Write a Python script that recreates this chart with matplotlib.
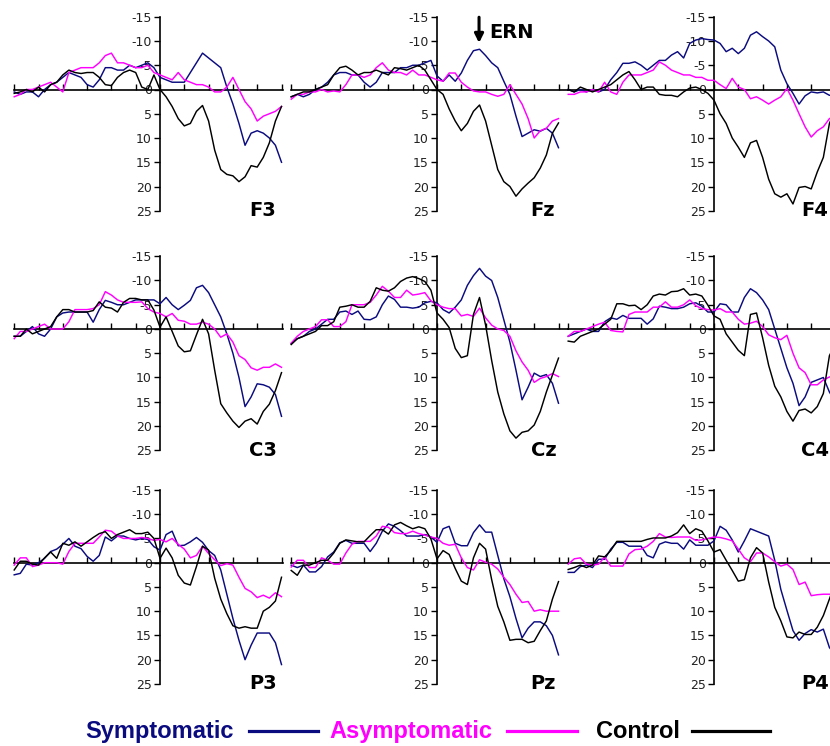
import matplotlib
matplotlib.use("Agg")
import matplotlib.pyplot as plt
from matplotlib.lines import Line2D

# ---------------- data (µV, negative plotted upward) ----------------
times = [-600, -575, -550, -525, -500, -475, -450, -425, -400, -375, -350, -325,
         -300, -275, -250, -225, -200, -175, -150, -125, -100, -75, -50, -25, 0,
         25, 50, 75, 100, 125, 150, 175, 200, 225, 250, 275, 300, 325, 350, 375,
         400, 425, 450, 475, 500]

F3_sym = [0.5, 1, 0.5, 0.5, 1.5, 0, -1, -1.5, -2.5, -3.5, -3, -2.5, -1, -0.5, -2, -4.5, -4.5, -4, -4, -5, -4.5, -5, -5.5, -4.5, -2.5,
          -2, -1.5, -1.5, -1.5, -3.5, -5.5, -7.5, -6.5, -5.5, -4.5, -0.5, 3, 7, 11.5, 9, 8.5, 9, 10, 11.5, 15]
F3_asym = [1.5, 1, 0, 0, -0.5, -1, -1.5, -0.5, 0.5, -3.5, -4, -4.5, -4.5, -4.5, -5.5, -7, -7.5, -5.5, -5.5, -5, -4.5, -4.5, -5, -3.5, -3,
           -2.5, -2, -3.5, -2, -1.5, -1, -1, -0.5, 0.5, 0.5, -0.5, -2.5, 0, 2.5, 4, 6.5, 5.5, 5, 4.5, 3.5]
F3_ctrl = [0.8, 0.5, 0, 0.5, -0.5, 0.5, -1, -1.5, -3, -4, -3.5, -3.3, -3.5, -3.5, -2.5, -1, -0.8, -2.5, -3.5, -4, -3.5, -0.5, 0, -3, 0,
           1.5, 3.5, 6, 7.5, 7, 4.5, 3.3, 6.5, 12.5, 16.5, 17.5, 17.8, 19, 18, 15.7, 16, 14, 11, 6.5, 3.5]

Fz_sym = [1.5, 1, 1.5, 1, 0, -0.5, -1.5, -3, -3.5, -3.5, -3, -3, -1.5, -0.5, -1.5, -3.5, -3.5, -3.5, -4.5, -4.5, -5, -5, -5.5, -6, -2.8,
          -1.7, -3, -1.7, -3.4, -6, -8, -8.3, -7, -5.5, -4.5, -1.7, 1, 5.5, 9.7, 9, 8.3, 8.6, 8, 9, 12]
Fz_asym = [2, 1, 1, 0.5, 0.5, 0, 0.5, 0.3, 0.5, -1, -3, -3, -2.5, -3, -4.5, -5.5, -4, -3.5, -3.5, -3, -4, -3, -3, -2.5, -2,
           -1.7, -3.4, -3.4, -1.5, -0.5, 0.3, 0.5, 0.5, 1, 1.4, 1, -1, 1, 3, 6, 10, 8.5, 8, 6.5, 6]
Fz_ctrl = [1.5, 1, 0.5, 0.5, 0, -0.5, -1, -3, -4.5, -4.8, -4, -3, -3.5, -3.5, -4, -3.5, -3, -4.5, -4.3, -4, -4.5, -5, -4, -2, 0,
           1, 4, 6.5, 8.5, 7, 4.5, 3.2, 6.5, 11.5, 16.5, 19, 20, 22, 20.5, 19.3, 18.2, 16.2, 13.5, 9, 6.9]

F4_sym = [0, 0.5, 0, 0.5, 0, 0.5, 0, -2, -3.5, -5.4, -5.4, -5.7, -5, -4, -5, -6, -6, -7.1, -7.8, -6.5, -9.5, -10.2, -10.5, -10.3, -10.2,
          -9.5, -7.8, -8.5, -7.4, -8.5, -11.2, -11.9, -10.9, -10, -8.8, -4, -1.2, 0.8, 3, 1.3, 0.5, 0.7, 0.5, 1.2, 1]
F4_asym = [1, 1, 0.5, 0.5, 0, 0.5, -1.5, 0.5, 1, -1.5, -3, -3, -3, -3.5, -4, -5.7, -5, -4, -3.5, -3, -3, -2.5, -2.5, -1.9, -1.9,
           -1, -0.2, -2.3, -0.5, 0, 1.9, 1.5, 2.2, 3, 2.2, 1.5, -0.2, 2.2, 5, 7.7, 9.8, 8.5, 7.7, 6, 5.5]
F4_ctrl = [0, 0.5, -0.5, 0, 0.5, 0, -0.5, -1, -2, -3, -3.7, -2, 0, -0.5, -0.5, 1, 1.2, 1.2, 1.5, 0.5, -0.3, -0.5, 0, 0.8, 2.2,
           5, 7, 10, 11.9, 14, 11, 10.5, 14, 18.5, 21.5, 22.2, 21.5, 23.6, 20.2, 20, 20.5, 17, 14, 7, 4]

C3_sym = [1.5, 1.5, 0.5, -0.5, 1, 1.5, 0, -2.5, -3.3, -3.5, -3.5, -3.5, -3.5, -1.4, -4, -5.9, -5.5, -5, -5, -5.5, -6, -6, -6, -6, -5.2,
          -6.5, -5, -4, -4.9, -5.9, -8.5, -9, -7.5, -5, -2.5, 1, 5, 10, 16, 14, 11.3, 11.5, 12, 13.5, 18]
C3_asym = [2, 0.5, 0.5, 0, -0.5, -1, 0, 0, 0, -1.5, -4, -4, -4, -4.2, -5, -7.7, -7, -6, -5.5, -5.5, -5.5, -5.6, -4.2, -3.5, -3.2,
           -2.5, -3.2, -1.8, -1.6, -1, -1, -1.4, -1, 0, 1.7, 1, 2.7, 5.5, 6.3, 8, 8.5, 7.9, 7.9, 7.2, 7.9]
C3_ctrl = [1.5, 1.5, 0, 1, 0.5, 0, -0.5, -2.5, -4, -4, -3.5, -3.5, -3.5, -3.8, -5.6, -4.5, -4.3, -3.5, -5.5, -6.3, -6.3, -6, -6, -3.9, -0.4,
           -2.5, 0.5, 3.5, 4.7, 4.5, 1.2, -2, 1, 8.5, 15.4, 17.3, 19, 20.3, 19, 18.5, 19.6, 17, 15.5, 12.7, 9]

Cz_sym = [3, 2, 1.5, 0.5, 0, -1, -2, -2, -3.5, -3.7, -3, -3.7, -2, -1.9, -2.5, -5, -6.8, -6.1, -4.5, -4.5, -4.3, -4.5, -5.4, -5.7, -5.4,
          -4, -3.3, -4.5, -6, -9, -11, -12.5, -10.9, -10, -6.5, -1.9, 2.7, 8.5, 14.6, 12, 9.1, 9.8, 9.4, 11.2, 15.3]
Cz_asym = [2.9, 1.5, 0.5, 0, -0.5, -1.9, -1.9, -0.5, -0.5, -1.5, -5, -5, -5, -5.5, -7, -8.8, -7.8, -6.5, -6.5, -8, -7, -7.2, -7.5, -5.8, -5,
           -4.5, -4.2, -4.2, -2.7, -3, -2.6, -4.3, -2.3, -0.8, 0, 0.3, 1.5, 4.5, 6.8, 8.5, 11, 10.2, 9.8, 9.2, 9.8]
Cz_ctrl = [3.2, 2, 1.5, 1, 0.5, -0.7, -0.7, -1.5, -4.5, -4.7, -5, -4.5, -4.5, -5.7, -8.5, -8, -7.8, -8.5, -9.8, -10.5, -10.8, -10.4, -9.8, -8, -3.3,
           -2, -0.3, 4, 5.9, 5.5, -3, -6.5, -0.8, 6.5, 13, 17.5, 21, 22.5, 21.3, 21, 19.8, 17, 13, 9.5, 6]

C4_sym = [1.5, 1, 0.5, 0, 0.5, 0.5, -1.5, -2.3, -2, -2.8, -2.2, -2.2, -2.2, -1, -2.1, -4.7, -4.5, -4.2, -4.2, -4.5, -5.2, -5.4, -4.7, -3.5, -3.5,
          -5.2, -5, -3.5, -3.5, -6.5, -8.3, -7.5, -6, -4, 0, 4, 8, 11.2, 15.8, 14, 11, 10.5, 10, 13, 15]
C4_asym = [1.5, 0.5, 0.5, 0, -0.5, -1, -1.4, 0.3, 0.5, 0.6, -3, -3.5, -3.5, -3.5, -4.5, -4.5, -5.6, -4.5, -4.5, -5, -6, -4.8, -4.2, -4, -3.9,
           -4.2, -3.5, -3.5, -2, -1, -1.2, -1.6, -0.5, 1.2, 1.8, 2.2, 1.3, 5, 8, 9, 11.5, 11.5, 10.5, 9.9, 9.5]
C4_ctrl = [2.5, 2.7, 1.5, 1, 0.5, 0, -1, -2, -5.2, -5.2, -4.8, -4.9, -4, -5, -6.8, -7.2, -7, -7.7, -7.8, -8.3, -7, -7.2, -6.8, -4.9, -2.7,
           -2, 1, 2.7, 4.4, 5.5, -3, -3.3, 1.8, 7.5, 11.8, 14, 17, 19, 16.8, 16.5, 17.3, 16, 13.3, 5.5, 3]

P3_sym = [2.5, 2.2, 0.3, 0.5, 0, -0.9, -2.3, -2.8, -3.8, -5, -3.4, -2.9, -1.3, -0.3, -1.5, -5.3, -4.5, -5.5, -5.5, -5, -4.7, -5, -4.8, -3.3, -2.6,
          -5.8, -6.5, -3.5, -3.6, -4.3, -5.2, -4.2, -2.5, -1.5, 1.5, 6.5, 11.5, 16, 20, 17, 14.5, 14.5, 14.5, 16.5, 21]
P3_asym = [0.5, -1, -1, 0.8, 0.5, 0, 0, 0, 0.3, -2.3, -4, -4, -4, -4, -5.3, -6.7, -6.5, -5.5, -5, -5, -5, -5.2, -5, -4.6, -4.8,
           -4.3, -5, -3.8, -2.8, -1, -1.5, -3.4, -1.9, -0.6, 0.6, 0.2, 0.5, 3, 5.3, 6, 7.2, 6.7, 7.3, 6.2, 7]
P3_ctrl = [1.5, -0.3, -0.3, 0.3, 0.5, -1, -2.2, -0.9, -4, -3.6, -4.3, -3.4, -4.3, -5.2, -6, -6.4, -5, -5.8, -6.3, -6.8, -6, -6, -6.3, -5, -0.9,
           -3, -1, 2.6, 4.2, 4.6, 0.8, -3.4, -2.6, 3.2, 7.5, 10.5, 13, 13.5, 13.2, 13.5, 13.5, 10, 9.2, 7.9, 3]

Pz_sym = [0.5, 1, 0.5, 1.9, 1.9, 0.8, -1.2, -2.2, -4.1, -4.6, -4, -4, -4, -2.3, -4, -6.5, -8, -7.5, -6.6, -5.5, -5.5, -5.5, -5.8, -5.3, -4.2,
          -7, -7.5, -4, -3.5, -3.5, -6.2, -7.8, -6.3, -6.3, -1.5, 3.3, 7, 11.5, 15.5, 13.5, 12.2, 12.2, 13, 15, 19]
Pz_asym = [0.9, -0.5, -0.5, 1, 1, -1, -0.5, 0.3, 0.3, -2, -3.8, -4.4, -4.4, -4.4, -5.5, -7.5, -7.3, -6.2, -6, -6, -6.5, -6, -5.7, -5.3, -5,
           -4, -3.6, -3.8, -1, 1, 1.5, -0.6, -0.1, 0.3, 1.3, 3, 4.5, 6.5, 8.2, 8, 10, 9.7, 10, 10, 10]
Pz_ctrl = [1.6, 2.6, 0.5, 0.5, 0, -0.5, -0.5, -2, -4, -4.7, -4.5, -4.3, -4.3, -5.6, -6.8, -6.8, -5.9, -7.8, -8.3, -7.6, -7, -7.4, -7, -4.9, -0.8,
           -2.5, -1.7, 1.2, 3.8, 4.5, -1, -4, -2.8, 3.5, 9, 12.2, 16, 15.8, 15.8, 16.5, 16.2, 14, 12, 7.5, 3.9]

P4_sym = [2, 2, 0.8, 0.5, 1, -0.7, -0.7, -2.8, -4.2, -4.2, -3.4, -3.4, -3.4, -1.5, -1, -3.8, -4.3, -4, -4, -2.8, -4.7, -3.6, -3.6, -3.6, -4.5,
          -7.5, -6.7, -4.7, -2.2, -4.5, -7, -6.5, -6, -5.5, -0.5, 5.5, 9.8, 14, 16, 14.6, 13.8, 14.3, 13.7, 17.5, 19]
P4_asym = [0.3, -0.8, -1, 0.3, 0.5, 0.3, -1.2, 0.7, 0.7, 0.7, -1.8, -2.7, -2.8, -3.4, -4.4, -6, -5.3, -5.2, -5.3, -5.3, -5.3, -4.6, -4.7, -5, -5.3,
           -5.2, -4.9, -4.5, -2.8, -1, -0.2, -2, -2, -1.2, -0.2, 0.7, 0.3, 1.4, 4.5, 4, 6.8, 6.6, 6.5, 6.5, 6.5]
P4_ctrl = [1.4, 1, 0.5, 1, 0.5, -1.4, -1.2, -2.5, -4.4, -4.4, -4.4, -4.4, -4.4, -4.8, -5.1, -5.1, -5.1, -5.5, -6.2, -7.8, -6, -7, -6.5, -4.5, -2.2,
           -2.7, -0.5, 1.6, 3.8, 3.5, -1, -3.1, -2, 4, 9.2, 12, 15.3, 15.5, 14.3, 14.8, 14.8, 13.3, 10.9, 7.5, 4]

electrodes = [["F3", "Fz", "F4"], ["C3", "Cz", "C4"], ["P3", "Pz", "P4"]]
series = {
    "F3": (F3_sym, F3_asym, F3_ctrl), "Fz": (Fz_sym, Fz_asym, Fz_ctrl), "F4": (F4_sym, F4_asym, F4_ctrl),
    "C3": (C3_sym, C3_asym, C3_ctrl), "Cz": (Cz_sym, Cz_asym, Cz_ctrl), "C4": (C4_sym, C4_asym, C4_ctrl),
    "P3": (P3_sym, P3_asym, P3_ctrl), "Pz": (Pz_sym, Pz_asym, Pz_ctrl), "P4": (P4_sym, P4_asym, P4_ctrl),
}
group_names = ["Symptomatic", "Asymptomatic", "Control"]
yticks = [-15, -10, -5, 0, 5, 10, 15, 20, 25]
xticks = [-600, -500, -400, -300, -200, -100, 0, 100, 200, 300, 400, 500]

# ---------------- styling / layout ----------------
colors = ["#0b0b80", "#ff00ff", "#000000"]
W, H = 830, 746
fig = plt.figure(figsize=(W / 100, H / 100), dpi=100)

col_x0 = [160, 437, 714]        # pixel x of the y axis (t=0)
row_y0 = [89.5, 329, 562.7]     # pixel y of the zero line
sx = 0.243                      # px per ms
sy = 4.85                       # px per µV
xmin, xmax = -610, 545
ymin, ymax = -15.5, 25.5
axis_end = [506, 540, 520]
label_x = [368, 385, 358]

for r in range(3):
    for c in range(3):
        name = electrodes[r][c]
        X0, Y0 = col_x0[c], row_y0[r]
        left_px = X0 + xmin * sx
        top_px = Y0 + ymin * sy
        wpx = (xmax - xmin) * sx
        hpx = (ymax - ymin) * sy
        ax = fig.add_axes([left_px / W, 1 - (top_px + hpx) / H, wpx / W, hpx / H])
        ax.patch.set_alpha(0)
        ax.set_xlim(xmin, xmax)
        ax.set_ylim(ymax, ymin)
        for s in ("top", "right"):
            ax.spines[s].set_visible(False)
        ax.spines["left"].set_position(("data", 0))
        ax.spines["left"].set_bounds(-15, 25)
        ax.spines["bottom"].set_position(("data", 0))
        ax.spines["bottom"].set_bounds(-600, axis_end[c])
        for s in ("left", "bottom"):
            ax.spines[s].set_linewidth(1.2)
            ax.spines[s].set_zorder(2)
        ax.set_yticks(yticks)
        ax.set_yticklabels([str(v) for v in yticks], family="DejaVu Sans",
                           fontsize=9, color="#222222")
        ax.set_xticks(xticks)
        ax.set_xticklabels([])
        ax.tick_params(axis="x", direction="in", length=4, width=1.0)
        ax.tick_params(axis="y", direction="out", length=4, width=1.0, pad=2)
        for vals, col in zip(series[name], colors):
            ax.plot(times, vals, color=col, lw=1.05, zorder=3, clip_on=False)
        ax.text(label_x[c], 25, name, fontsize=14, fontweight="bold",
                family="DejaVu Sans", ha="left", va="center", zorder=4)
        if name == "Fz":
            ax.annotate("", xy=(173, -9.6), xytext=(173, -14.9),
                        arrowprops=dict(arrowstyle="-|>", color="black", lw=2.2,
                                        mutation_scale=13, shrinkA=0, shrinkB=0))
            ax.text(215, -11.7, "ERN", fontsize=14, fontweight="bold",
                    family="DejaVu Sans", ha="left", va="center")

# ---------------- legend ----------------
legend_text_x = [85, 329, 596]
legend_line_x = [(249, 318), (507, 577), (692, 770)]
for name, col, tx, (l0, l1) in zip(group_names, colors, legend_text_x, legend_line_x):
    fig.text(tx / W, 1 - 738 / H, name, color=col, fontsize=17, fontweight="bold",
             family="Liberation Sans", ha="left", va="baseline")
    fig.add_artist(Line2D([l0 / W, l1 / W], [1 - 731 / H, 1 - 731 / H],
                          color=col, lw=2.3, transform=fig.transFigure))

fig.savefig("out.png", dpi=100)
